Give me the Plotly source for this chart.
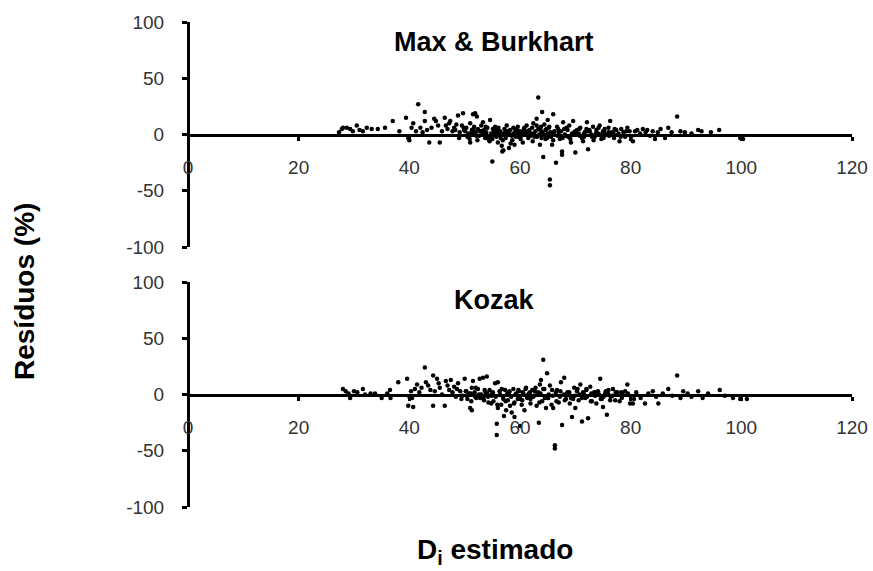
import plotly.graph_objects as go

# Residuals (%) against estimated diameter, Max & Burkhart model
mb_x = [
    27.3, 27.8, 28.0, 28.7, 29.3, 29.8, 30.5, 31.0, 31.6, 32.3, 33.2, 34.3, 35.6, 37.0, 38.2, 39.4, 39.8, 40.0,
    40.4, 40.7, 41.2, 41.6, 42.0, 42.4, 42.8, 42.8, 43.2, 43.6, 44.0, 44.5, 44.8, 45.2, 45.5, 45.9, 46.4, 46.6,
    46.9, 47.2, 47.4, 47.8, 48.1, 48.5, 48.8, 49.1, 49.5, 49.7, 49.9,
    50.1, 50.3, 50.5, 50.8, 51.0, 51.0, 51.3, 51.5, 51.7, 51.9, 52.0, 52.2, 52.4, 52.6, 52.8, 53.0, 53.2, 53.3,
    53.5, 53.7, 53.9, 54.1, 54.3, 54.6, 54.8, 55.0, 55.0, 55.1, 55.3, 55.5, 55.7, 55.9, 56.0, 56.2, 56.4, 56.7,
    56.8, 57.0, 57.0, 57.2, 57.4, 57.6, 57.8, 58.0, 58.2, 58.4, 58.6, 58.8, 59.0, 59.0, 59.2, 59.4, 59.6, 59.8,
    60.0, 60.2, 60.5, 60.7, 61.0, 61.2, 61.5, 61.7, 62.0, 62.2, 62.4, 62.6, 62.8, 63.0, 63.3, 63.3, 63.5, 63.6,
    63.8, 64.0, 64.0, 64.2, 64.4, 64.6, 64.8, 65.0, 65.0, 65.2, 65.4, 65.4, 65.6, 65.8, 66.0, 66.2, 66.5, 66.7,
    67.0, 67.2, 67.6, 67.6, 67.8, 68.0, 68.3, 68.6, 68.9, 69.2, 69.6, 69.8,
    70.0, 70.3, 70.6, 70.9, 71.2, 71.4, 71.7, 72.0, 72.1, 72.3, 72.6, 72.9, 73.2, 73.5, 73.8, 74.1, 74.4, 74.7,
    75.0, 75.3, 75.6, 76.0, 76.3, 76.6, 77.0, 77.4, 77.8, 78.0, 78.3, 78.7, 79.0, 79.4, 79.8,
    80.4, 80.8, 81.2, 81.7, 82.2, 82.7, 83.0, 83.5, 84.0, 84.4, 84.9, 85.4, 86.2, 86.8, 87.4, 88.4, 89.0, 89.8,
    91.0, 92.2, 92.8, 94.5, 96.0, 99.8, 100.3,
    50.6, 51.4, 52.1, 52.9, 53.6, 54.4, 55.2, 55.8, 56.5, 57.3, 57.9, 58.5, 59.1, 59.7, 60.3, 60.9, 61.4, 61.9,
    62.5, 63.1, 63.7, 64.3, 64.9, 65.5, 66.1, 66.8, 67.4, 68.1, 68.7, 69.4, 70.1, 70.8, 71.5, 72.2, 73.0, 73.7,
    74.5, 75.2, 76.1, 76.9,
    48.3, 49.0, 49.8, 50.9, 51.6, 52.3, 53.1, 53.8, 54.5, 55.4, 56.1, 56.9, 57.6, 58.3, 59.3, 60.1, 60.8, 61.6,
    62.3, 63.0, 63.9, 64.6, 65.3, 66.0, 66.9, 67.7, 68.4, 69.1, 70.0, 70.7, 71.6, 72.5, 73.3, 74.2, 75.1, 76.0,
    77.1, 78.2, 79.2, 80.1,
]
mb_y = [
    2, 5, 6, 6, 5, 3, 8, 4, 3, 6, 5, 5, 6, 12, 3, 15, -3, -5,
    6, 10, 3, 27, 6, 2, 20, 12, 4, -7, 6, 14, 12, 8, -7, 3, 15, 8,
    5, 10, 12, 3, 6, 9, 17, 2, 8, 19, 4,
    3, 6, -2, 1, -7, 10, 4, 18, 7, 19, 2, 16, 5, -1, 3, 8, 0, 11,
    4, -3, 2, 6, -4, 13, 1, -24, -4, 5, 2, 7, -2, 4, -7, 0, 3, -10,
    -15, -14, 1, 5, -3, 8, 2, -12, 4, 0, -5, 6, -9, 2, -2, 4, 7, 1,
    3, -1, -7, 5, 2, 8, -3, 4, 1, 6, 10, -2, 3, 14, 33, 5, 0, -9,
    7, 20, 2, -20, 9, -4, 5, 13, 1, 6, -40, -45, -2, -9, 18, 3, -25, 7,
    2, -4, -15, -18, 11, 5, -1, 4, 8, -7, 12, 2,
    -16, 4, 1, 6, -3, -6, 2, 5, 11, -13, 3, 0, 7, -2, 4, 1, 8, -4,
    3, 5, 0, 6, 12, 2, -3, 4, 1, -6, 5, 2, -2, 6, 3,
    -6, 3, 4, 1, 5, 2, 4, -1, 3, -4, 2, 5, -3, 6, 2, 16, 3, 2,
    1, 4, 3, 2, 4, -3, -4,
    0, 2, -1, 3, 1, -2, 0, 2, -3, 1, 3, -1, 0, -2, 2, 0, 3, -1,
    1, -2, 4, 0, -3, 2, 1, -1, 3, 0, -2, 1, 2, -1, 0, 3, -2, 1,
    0, 2, -1, 1,
    4, -3, 6, -4, 5, -5, 3, 7, -6, 4, 6, -5, 3, -8, 5, -4, 6, 2,
    -6, 8, -3, 4, 7, -5, 5, -3, 6, -4, 3, 5, -2, 4, -5, 6, -3, 2,
    5, -2, 3, -2,
]

# Residuals (%) against estimated diameter, Kozak model
kz_x = [
    28.0, 28.5, 29.0, 29.3, 30.0, 30.6, 31.6, 32.0, 33.0, 33.8, 35.0, 36.0, 36.5, 36.6, 38.0, 39.6, 39.8, 40.0,
    40.3, 40.5, 40.7, 41.0, 41.4, 41.8, 42.2, 42.8, 43.0, 43.4, 43.8, 44.3, 44.3, 44.6, 45.0, 45.3, 45.5, 45.9,
    46.4, 46.6, 46.9, 47.2, 47.5, 47.8, 48.1, 48.4, 48.8, 49.2, 49.6, 50.0,
    50.2, 50.5, 50.8, 51.0, 51.3, 51.3, 51.5, 51.8, 52.1, 52.4, 52.7, 53.0, 53.3, 53.5, 53.8, 54.0, 54.2, 54.5,
    54.8, 55.0, 55.2, 55.5, 55.8, 55.8, 56.0, 56.0, 56.3, 56.6, 56.9, 57.1, 57.3, 57.5, 57.8, 58.0, 58.2, 58.5,
    58.8, 59.0, 59.0, 59.3, 59.6, 59.8,
    60.0, 60.3, 60.5, 60.8, 61.0, 61.3, 61.6, 61.9, 62.2, 62.5, 62.8, 63.0, 63.3, 63.4, 63.6, 63.8, 64.0, 64.2,
    64.4, 64.7, 64.9, 65.1, 65.4, 65.7, 66.0, 66.3, 66.3, 66.7, 67.0, 67.4, 67.6, 68.0, 68.3, 68.6, 69.0, 69.4,
    69.8,
    70.0, 70.3, 70.6, 70.9, 71.2, 71.5, 71.8, 72.0, 72.3, 72.7, 73.0, 73.4, 73.8, 74.1, 74.5, 74.8, 75.0, 75.4,
    75.7, 76.0, 76.4, 76.8, 77.2, 77.6, 78.0, 78.5, 79.0, 79.4, 79.9,
    80.4, 81.0, 81.8, 82.6, 83.2, 84.0, 84.6, 85.0, 85.8, 86.8, 87.5, 88.4, 89.0, 89.5, 90.3, 91.0, 92.2, 93.0,
    94.0, 96.1, 97.0, 98.5, 99.8, 101.0,
    50.4, 51.1, 51.9, 52.6, 53.4, 54.1, 54.9, 55.6, 56.4, 57.0, 57.7, 58.4, 59.2, 59.9, 60.6, 61.2, 61.8, 62.4,
    63.1, 63.7, 64.5, 65.2, 65.9, 66.5, 67.2, 67.9, 68.5, 69.2, 69.9, 70.7, 71.4, 72.1, 72.9, 73.6, 74.3, 75.1,
    75.9, 76.7, 77.5, 78.3,
    48.6, 49.4, 50.3, 51.2, 52.0, 52.8, 53.6, 54.3, 55.1, 55.9, 56.7, 57.4, 58.1, 58.9, 59.7, 60.4, 61.1, 61.9,
    62.7, 63.5, 64.2, 65.0, 65.8, 66.6, 67.3, 68.1, 68.9, 69.6, 70.4, 71.2, 72.0, 72.8, 73.7, 74.6, 75.5, 76.3,
    77.3, 78.4, 79.5, 80.6,
]
kz_y = [
    5, 3, 1, -3, 3, 2, 5, 0, 1, 1, -3, 1, 4, -3, 11, 14, -10, -2,
    3, -3, -11, 5, 9, 2, 6, 24, 11, 8, 4, 17, -10, 3, 14, 10, 6, 0,
    -10, 12, 8, 4, 13, 2, 7, -2, 10, 3, -1, 14,
    3, -4, 1, -12, -14, 6, 12, 2, -3, 5, 14, 0, 15, -5, 2, 16, -2, 4,
    -8, 1, -6, 10, -26, -36, -12, 11, 3, -9, -2, -19, 4, -14, -5, 2, -10, -16,
    5, -7, -20, 1, -4, 3,
    -28, -9, 2, -14, 5, -3, 1, -8, 4, -1, 6, -10, 2, -25, 9, 13, -6, 31,
    5, -12, 19, -3, 8, -9, -12, -45, -48, 4, -7, 11, -27, 15, -4, 2, -8, -20,
    6,
    -12, 3, -5, 9, -24, 1, -3, 5, -21, 7, -6, 2, -8, 3, 14, -4, -11, 1,
    -18, 4, -2, 5, -5, 2, -6, 1, 3, 9, -8,
    -8, 2, -3, -8, 1, 3, -2, -8, 1, 5, -1, 17, -3, 3, 1, -2, 3, -3,
    1, 4, -1, -3, -4, -4,
    -1, 1, -2, 0, -3, 1, -1, -2, 0, -4, 1, -2, 0, -3, 1, -1, 2, -2,
    0, 1, -3, 0, -1, 2, -2, 0, 1, -3, -1, 0, 2, -2, 1, -1, 0, -2,
    1, -1, 0, 2,
    5, -4, 3, -6, 6, -3, 4, -7, 2, -9, 5, -6, 3, -8, 4, -5, 6, -4,
    3, -7, 5, -3, 4, -6, 3, -5, 2, -4, 5, -3, 4, -6, 2, -4, 3, -5,
    2, -3, 1, -4,
]

x_ticks = [0, 20, 40, 60, 80, 100, 120]
y_ticks = [-100, -50, 0, 50, 100]
y_tick_text = ["-100", "-50", "0", "50", "100"]
panel_titles = ["Max & Burkhart", "Kozak"]

W, H = 873, 571
x_dom = [188 / W, 852 / W]
top_dom = [1 - 247 / H, 1 - 22 / H]
bot_dom = [1 - 507 / H, 1 - 282 / H]

FONT = "Liberation Sans, Arial, sans-serif"
tick_font = dict(family=FONT, size=19, color="#333333")
title_font = dict(family=FONT, size=27, color="black")
axis_title_font = dict(family=FONT, size=28, color="black")

marker = dict(color="black", size=4.5, symbol="circle", line=dict(width=0))

fig = go.Figure()
fig.add_trace(go.Scatter(x=mb_x, y=mb_y, mode="markers", marker=marker,
                         xaxis="x", yaxis="y", showlegend=False, cliponaxis=False))
fig.add_trace(go.Scatter(x=kz_x, y=kz_y, mode="markers", marker=marker,
                         xaxis="x2", yaxis="y2", showlegend=False, cliponaxis=False))


def x_axis(dom):
    # horizontal axis crossing the panel at residual = 0
    return dict(
        domain=x_dom, range=[0, 120], anchor="free", position=(dom[0] + dom[1]) / 2,
        automargin=False,
        showline=True, linewidth=3, linecolor="black", showgrid=False, zeroline=False,
        ticks="outside", ticklen=4, tickwidth=3, tickcolor="black",
        tickvals=x_ticks, ticktext=[str(v) for v in x_ticks],
        tickfont=tick_font, ticklabelstandoff=11,
    )


def y_axis(dom):
    return dict(
        domain=dom, range=[-100, 100], anchor="free", position=x_dom[0],
        automargin=False,
        showline=True, linewidth=3, linecolor="black", showgrid=False, zeroline=False,
        ticks="outside", ticklen=5, tickwidth=3, tickcolor="black",
        tickvals=y_ticks, ticktext=y_tick_text,
        tickfont=tick_font, ticklabelstandoff=14,
    )


fig.update_layout(
    width=W, height=H, autosize=False,
    margin=dict(l=0, r=0, t=0, b=0, autoexpand=False),
    paper_bgcolor="white", plot_bgcolor="white",
    xaxis=x_axis(top_dom), yaxis=y_axis(top_dom),
    xaxis2=x_axis(bot_dom), yaxis2=y_axis(bot_dom),
    annotations=[
        dict(text="<b>%s</b>" % panel_titles[0], x=494 / W, y=1 - 42 / H, xref="paper", yref="paper",
             showarrow=False, font=title_font, xanchor="center", yanchor="middle"),
        dict(text="<b>%s</b>" % panel_titles[1], x=494 / W, y=1 - 300 / H, xref="paper", yref="paper",
             showarrow=False, font=title_font, xanchor="center", yanchor="middle"),
        dict(text="<b>Resíduos (%)</b>", x=24 / W, y=1 - 292 / H, xref="paper", yref="paper",
             showarrow=False, textangle=-90, font=axis_title_font,
             xanchor="center", yanchor="middle"),
        dict(text="<b>D<sub>i</sub> estimado</b>", x=495 / W, y=1 - 551 / H, xref="paper", yref="paper",
             showarrow=False, font=axis_title_font, xanchor="center", yanchor="middle"),
    ],
)

fig.write_html("out.html")
